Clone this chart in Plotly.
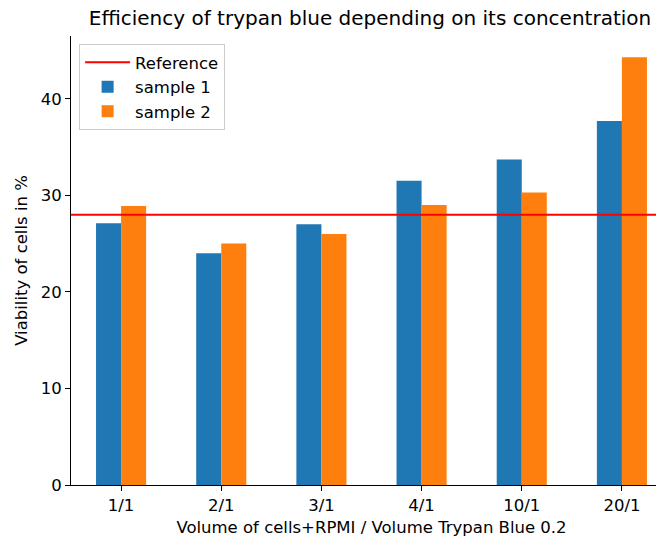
import plotly.graph_objects as go

# ratios of cells+RPMI to trypan blue
ratios = ['1/1', '2/1', '3/1', '4/1', '10/1', '20/1']
sample1 = [27.1, 24.0, 27.0, 31.5, 33.7, 37.7]
sample2 = [28.9, 25.0, 26.0, 29.0, 30.3, 44.3]
reference = 28.0

BLUE = '#1f77b4'
ORANGE = '#ff7f0e'

fig = go.Figure()

# reference line spans the whole plot width -> second (hidden) x axis 0..1
fig.add_trace(go.Scatter(x=[0, 1], y=[reference, reference], mode='lines',
                         name='Reference', xaxis='x2',
                         line=dict(color='red', width=2)))
fig.add_trace(go.Bar(x=ratios, y=sample1, name='sample 1',
                     marker=dict(color=BLUE, line=dict(width=0))))
fig.add_trace(go.Bar(x=ratios, y=sample2, name='sample 2',
                     marker=dict(color=ORANGE, line=dict(width=0))))

# page body has an 8px margin, so margins are shifted by 8px
fig.update_layout(
    width=664, height=539,
    margin=dict(l=63, r=0, t=28, b=62),
    paper_bgcolor='white', plot_bgcolor='white',
    font=dict(family='DejaVu Sans', size=16.5, color='black'),
    barmode='group', bargap=0.5, bargroupgap=0,
    title=dict(text='Efficiency of trypan blue depending on its concentration',
               x=362 / 664, xanchor='center',
               y=1 - 10 / 539, yanchor='middle',
               font=dict(size=20)),
    legend=dict(x=0.0135, y=0.982, xanchor='left', yanchor='top',
                bgcolor='rgba(255,255,255,0.8)', bordercolor='#cccccc',
                borderwidth=1, font=dict(size=16.5), tracegroupgap=0,
                itemwidth=45),
    showlegend=True,
)

fig.update_xaxes(
    type='category', range=[-0.5, 5.5], automargin=False,
    showline=True, linecolor='black', linewidth=1,
    ticks='outside', ticklen=5, tickcolor='black',
    showgrid=False, zeroline=False,
    title=dict(text='Volume of cells+RPMI / Volume Trypan Blue 0.2',
               standoff=7, font=dict(size=16.5)),
)
fig.update_layout(xaxis2=dict(overlaying='x', range=[0, 1], visible=False))

fig.update_yaxes(
    range=[0, 46.5], tickvals=[0, 10, 20, 30, 40], automargin=False,
    showline=True, linecolor='black', linewidth=1,
    ticks='outside', ticklen=5, tickcolor='black',
    showgrid=False, zeroline=False,
    title=dict(text='Viability of cells in %', standoff=8, font=dict(size=16.5)),
)

fig.write_html('out.html')
